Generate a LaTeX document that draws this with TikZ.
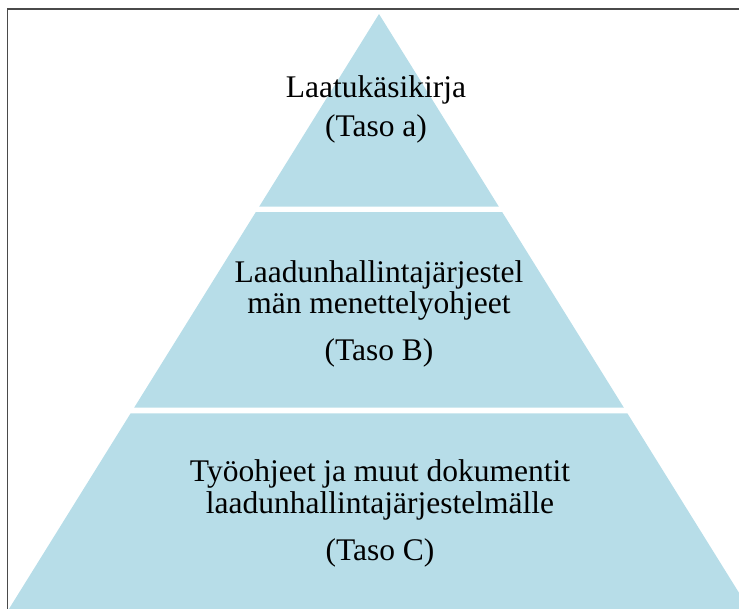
\documentclass[tikz,border=0pt]{standalone}
\usepackage{fontspec}
\setmainfont{Liberation Serif}
\definecolor{pyrblue}{HTML}{B7DDE8}
\definecolor{framegray}{HTML}{4A4A4A}
\tikzset{levelfill/.style={fill=pyrblue, draw=none},
%text of one level, placed at its baseline
leveltext/.style={font=\fontsize{31.5}{32}\selectfont, anchor=base, inner sep=0pt}}

\begin{document}
\begin{tikzpicture}[x=1pt, y=-1pt]
        \useasboundingbox (0,0) rectangle (739,608);

        % frame
        \draw[framegray, line width=1.6pt] (7.3,620) -- (7.3,8.7) -- (750,8.7);

        % levels (apex at (379,14), sides with slope 0.622)
        \foreach \ytop/\ybot in {14/206.7, 212.2/407.7, 413.3/620}{
            \pgfmathsetmacro{\wtop}{(\ytop-14)*0.622}
            \pgfmathsetmacro{\wbot}{(\ybot-14)*0.622}
            \fill[levelfill] (379-\wtop,\ytop) -- (379+\wtop,\ytop) -- (379+\wbot,\ybot) -- (379-\wbot,\ybot) -- cycle;
        }

        % texts
        \node[leveltext] (la1) at (376,97) {Laatukäsikirja};
        \node[leveltext] (la2) at (376,136) {(Taso a)};
        \node[leveltext] (lb1) at (379,282) {Laadunhallintajärjestel};
        \node[leveltext] (lb2) at (379,313.3) {män menettelyohjeet};
        \node[leveltext] (lb3) at (379,360) {(Taso B)};
        \node[leveltext] (lc1) at (380,481.7) {Työohjeet ja muut dokumentit};
        \node[leveltext] (lc2) at (380,513.3) {laadunhallintajärjestelmälle};
        \node[leveltext] (lc3) at (380,560) {(Taso C)};

    \end{tikzpicture}
\end{document}
